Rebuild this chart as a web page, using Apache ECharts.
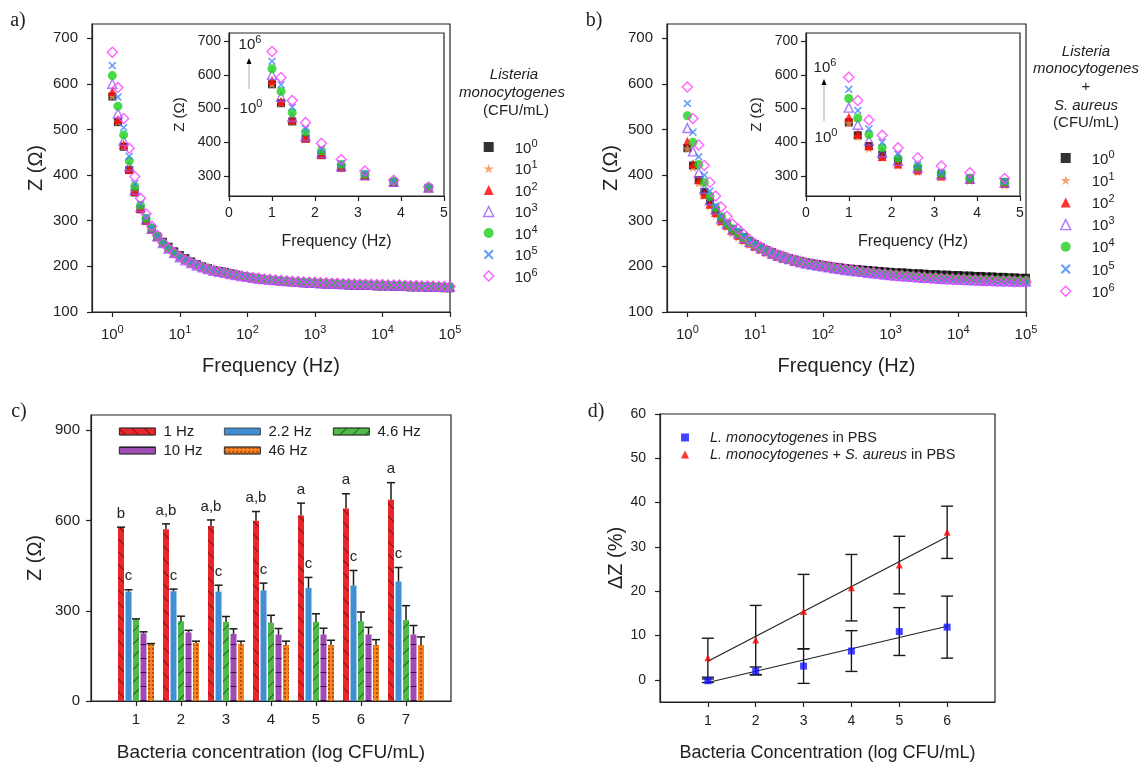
<!DOCTYPE html>
<html><head><meta charset="utf-8">
<script src="https://cdn.jsdelivr.net/npm/echarts@6/dist/echarts.min.js"></script>
<style>html,body{margin:0;padding:0;background:#fff}#c{width:1144px;height:763px}</style>
</head><body><div id="c"></div>
<script>
// ---------------- DATA ----------------
const FREQ_HZ = [1,1.21,1.47,1.78,2.15,2.61,3.16,3.83,4.64,5.62,6.81,8.25,
  10,12.1,14.7,17.8,21.5,26.1,31.6,38.3,46.4,56.2,68.1,82.5,
  100,121,147,178,215,261,316,383,464,562,681,825,
  1000,1210,1470,1780,2150,2610,3160,3830,4640,5620,6810,8250,
  10000,12100,14700,17800,21500,26100,31600,38300,46400,56200,68100,82500,100000];

// Panel a: Listeria monocytogenes, Z (ohm) vs frequency
const LM_1E0 = [572,516,462,411,362,325,300,281,265,254,243,233,225,218,211,205,200,196,192,190,188,185,182,179,177,175,173,171,170,168,167,166,165,164,163,162,162,161,160,160,159,159,158,158,157,157,157,156,156,156,155,155,155,154,154,154,153,153,153,152,152];
const LM_1E1 = [573,517,463,411,363,326,300,281,265,253,242,232,225,218,212,206,201,197,194,191,189,186,183,181,179,177,175,174,172,171,170,169,168,167,166,165,165,164,164,163,163,162,162,161,161,161,160,160,160,159,159,159,158,158,158,157,157,157,156,156,156];
const LM_1E2 = [583,522,467,413,364,327,301,282,265,252,240,230,222,215,209,204,199,195,192,189,187,184,182,180,178,176,175,173,172,171,170,169,168,167,167,166,166,165,165,164,164,163,163,162,162,162,161,161,161,160,160,160,159,159,159,158,158,158,157,157,157];
const LM_1E3 = [600,535,475,419,368,330,303,283,266,251,239,229,220,213,207,202,198,194,190,188,186,183,181,179,177,175,173,172,171,170,169,168,167,166,165,165,164,163,163,162,162,161,161,161,160,160,160,159,159,159,158,158,158,157,157,157,156,156,156,155,155];
const LM_1E4 = [618,551,488,431,375,334,305,284,266,251,239,229,221,214,208,203,198,194,190,188,186,183,181,179,177,175,174,172,171,170,169,168,167,166,166,165,164,164,163,163,162,162,161,161,160,160,160,159,159,159,158,158,158,157,157,157,156,156,156,155,155];
const LM_1E5 = [640,571,504,441,381,337,308,285,267,251,239,229,221,214,208,203,198,194,191,188,186,183,181,179,177,175,174,172,171,170,169,168,167,166,166,165,164,164,163,163,162,162,161,161,161,160,160,160,159,159,159,158,158,158,157,157,157,156,156,156,155];
const LM_1E6 = [669,592,524,459,397,349,315,288,268,252,240,230,221,214,208,203,198,194,191,188,186,183,181,179,177,175,174,172,171,170,169,168,167,167,166,165,165,164,164,163,163,162,162,161,161,161,160,160,160,159,159,159,158,158,158,157,157,157,156,156,156];

// Panel b: Listeria monocytogenes + S. aureus
const LMSA_1E0 = [459,421,389,363,343,322,305,293,282,273,264,256,249,242,236,231,226,222,218,215,212,209,207,205,203,201,199,198,196,195,194,193,192,191,190,189,188,187,187,186,185,185,184,183,183,182,182,181,181,180,180,179,179,178,178,177,177,176,176,175,175];
const LMSA_1E1 = [458,417,383,355,333,313,298,287,273,264,256,248,242,236,230,225,221,217,214,210,208,205,203,201,199,197,196,194,193,191,190,189,187,186,185,184,183,182,181,180,179,179,178,177,177,176,175,175,174,174,174,173,173,172,172,172,171,171,171,171,170];
const LMSA_1E2 = [474,425,390,358,336,318,300,290,278,268,259,251,244,238,232,227,222,218,215,211,209,206,204,202,200,198,196,195,193,192,190,189,188,187,186,185,184,183,182,181,180,180,179,178,178,177,176,176,175,175,175,174,174,173,173,173,172,172,172,172,171];
const LMSA_1E3 = [503,452,405,370,345,325,305,293,280,272,262,254,246,240,234,228,224,220,216,212,209,206,204,202,200,198,196,194,192,191,189,188,186,185,184,182,181,180,179,178,177,176,175,175,174,173,172,172,171,171,170,170,169,169,169,168,168,168,167,167,167];
const LMSA_1E4 = [530,472,423,384,353,328,308,293,282,273,263,254,247,240,234,229,224,220,216,213,210,207,205,203,201,199,197,195,194,192,191,189,188,187,185,184,183,182,181,180,179,178,177,176,176,175,174,174,173,173,172,172,171,171,171,170,170,170,169,169,169];
const LMSA_1E5 = [557,494,440,400,365,333,310,295,283,280,268,257,249,242,235,229,224,220,216,213,210,207,204,202,200,198,196,194,192,190,189,187,185,184,182,181,179,178,177,176,175,174,173,172,171,171,170,169,169,168,168,167,167,166,166,165,165,165,164,164,164];
const LMSA_1E6 = [593,524,466,421,384,354,330,310,293,282,270,259,250,243,236,231,226,222,218,214,211,208,206,204,202,200,198,196,194,193,191,189,187,186,184,183,181,180,179,178,177,176,175,174,174,173,172,171,171,170,170,169,169,168,168,167,167,167,166,166,166];

const CONC_EXPONENTS = [0,1,2,3,4,5,6];
const INSET_POINT_COUNT = 9;           // low-frequency points shown in the insets (1 - 4.64 Hz)
const DECADE_TICKS = [1,10,100,1000,10000,100000];

// Panel c
const LOG_CONC = [1,2,3,4,5,6,7];
const BAR_NAMES = ['1 Hz','2.2 Hz','4.6 Hz','10 Hz','46 Hz'];
const Z_1HZ   = [575,571,582,599,617,640,669];
const Z_1HZ_SD = [3,18,20,31,41,49,57];
const Z_2P2HZ = [364,365,364,368,376,384,397];
const Z_2P2HZ_SD = [6,7,21,24,35,50,47];
const Z_4P6HZ = [270,265,263,260,263,265,269];
const Z_4P6HZ_SD = [3,17,18,25,27,31,48];
const Z_10HZ  = [225,228,223,221,221,221,221];
const Z_10HZ_SD = [5,7,17,20,21,24,30];
const Z_46HZ  = [189,193,190,186,186,186,186];
const Z_46HZ_SD = [2,6,9,13,16,18,27];
const LETTERS_1HZ = ['b','a,b','a,b','a,b','a','a','a'];
const LETTERS_2P2HZ = ['c','c','c','c','c','c','c'];

// Panel d
const LOG_CONC_D = [1,2,3,4,5,6];
const DZ_LM = [-0.2,2.0,3.1,6.5,10.9,11.9];
const DZ_LM_SD = [0.4,0.9,3.9,4.6,5.4,7.0];
const DZ_LMSA = [5.0,9.0,15.4,20.8,25.9,33.3];
const DZ_LMSA_SD = [4.4,7.8,8.4,7.5,6.5,5.9];
const FIT_X = [1,6];
const FIT_LM = [-0.6,12.1];
const FIT_LMSA = [4.2,32.3];

// ---------------- STYLE ----------------
const FONT = '"Liberation Sans", Arial, sans-serif';
const SERIF = '"Liberation Serif", "Times New Roman", serif';
const INK = '#222';
const STAR = 'path://M50,2 L61.8,37.6 L99,37.6 L69,59.6 L80.4,95 L50,73 L19.6,95 L31,59.6 L1,37.6 L38.2,37.6 Z';
const XMARK = 'path://M14,0 L50,36 L86,0 L100,14 L64,50 L100,86 L86,100 L50,64 L14,100 L0,86 L36,50 L0,14 Z';
const MARKERS = [
  {symbol:'rect', size:8, color:'#000'},
  {symbol:STAR, size:10, color:'#f5894f'},
  {symbol:'triangle', size:9, color:'#ff0000'},
  {symbol:'triangle', size:9, hollow:'#9a55ff'},
  {symbol:'circle', size:9, color:'#1ccf1c'},
  {symbol:XMARK, size:8, color:'#3f86f7'},
  {symbol:'diamond', size:10, hollow:'#ff3cff'}
];
const SUP_RICH = {
  g:{width:16},
  b:{fontSize:15, fontFamily:FONT, color:INK, lineHeight:18, verticalAlign:'bottom'},
  s:{fontSize:11, fontFamily:FONT, color:INK, lineHeight:11, verticalAlign:'top'}
};
const pow10Label = v => '{b|10}{s|' + Math.round(Math.log10(v)) + '}';

function axisCommon(extra){
  return Object.assign({
    axisLine:{show:true, onZero:false, lineStyle:{color:INK, width:1.2}},
    axisTick:{show:true, length:5, lineStyle:{color:INK, width:1.2}},
    splitLine:{show:false},
    nameLocation:'middle',
    nameTextStyle:{fontFamily:FONT, color:INK, fontSize:20}
  }, extra);
}
function labelStyle(size, extra){
  return Object.assign({fontFamily:FONT, color:INK, fontSize:size, showMinLabel:true, showMaxLabel:true}, extra);
}

const grids = [
  {left:92, top:24, width:358, height:288},
  {left:229, top:33, width:215, height:163, backgroundColor:'#fff'},
  {left:667, top:24, width:359, height:288},
  {left:806, top:33, width:214, height:163, backgroundColor:'#fff'},
  {left:91, top:415, width:360, height:287},
  {left:660, top:414, width:335, height:288}
].map(g => Object.assign({show:true, borderColor:INK, borderWidth:1.2, containLabel:false}, g));

function mainX(gi){
  return axisCommon({type:'log', logBase:10, gridIndex:gi, min:0.5, max:100000,
    axisTick:{show:true, length:5, lineStyle:{color:INK,width:1.2}, customValues:DECADE_TICKS},
    axisLabel:labelStyle(15,{customValues:DECADE_TICKS, formatter:pow10Label, rich:SUP_RICH, margin:12}),
    name:'Frequency (Hz)', nameGap:44});
}
function mainY(gi){
  const vals=[100,200,300,400,500,600,700];
  return axisCommon({type:'value', gridIndex:gi, min:100, max:731,
    axisTick:{show:true, length:5, lineStyle:{color:INK,width:1.2}, customValues:vals},
    axisLabel:labelStyle(15,{customValues:vals, margin:14}),
    name:'Z (\u03A9)', nameGap:46});
}
function insetX(gi){
  const vals=[0,1,2,3,4,5];
  return axisCommon({type:'value', gridIndex:gi, min:0, max:5,
    axisTick:{show:true, length:5, lineStyle:{color:INK,width:1.2}, customValues:vals},
    axisLabel:labelStyle(14,{customValues:vals, margin:10}),
    name:'Frequency (Hz)', nameGap:38, nameTextStyle:{fontFamily:FONT,color:INK,fontSize:16}});
}
function insetY(gi){
  const vals=[300,400,500,600,700];
  return axisCommon({type:'value', gridIndex:gi, min:241, max:724,
    axisTick:{show:true, length:5, lineStyle:{color:INK,width:1.2}, customValues:vals},
    axisLabel:labelStyle(14,{customValues:vals, margin:8}),
    name:'Z (\u03A9)', nameGap:42, nameTextStyle:{fontFamily:FONT,color:INK,fontSize:15}});
}

const xAxes = [
  mainX(0), insetX(1), mainX(2), insetX(3),
  axisCommon({type:'value', gridIndex:4, min:0, max:8,
    axisTick:{show:true,length:5,lineStyle:{color:INK,width:1.2},customValues:LOG_CONC},
    axisLabel:labelStyle(15,{customValues:LOG_CONC, margin:11}),
    name:'Bacteria concentration (log CFU/mL)', nameGap:42, nameTextStyle:{fontFamily:FONT,color:INK,fontSize:19}}),
  axisCommon({type:'value', gridIndex:5, min:0, max:7,
    axisTick:{show:true,length:5,lineStyle:{color:INK,width:1.2},customValues:LOG_CONC_D},
    axisLabel:labelStyle(14,{customValues:LOG_CONC_D, margin:12}),
    name:'Bacteria Concentration (log CFU/mL)', nameGap:42, nameTextStyle:{fontFamily:FONT,color:INK,fontSize:18}})
];
const yAxes = [
  mainY(0), insetY(1), mainY(2), insetY(3),
  axisCommon({type:'value', gridIndex:4, min:0, max:951,
    axisTick:{show:true,length:5,lineStyle:{color:INK,width:1.2},customValues:[0,300,600,900]},
    axisLabel:labelStyle(15,{customValues:[0,300,600,900], margin:11}),
    name:'Z (\u03A9)', nameGap:46}),
  axisCommon({type:'value', gridIndex:5, min:-5, max:60,
    axisTick:{show:true,length:5,lineStyle:{color:INK,width:1.2},customValues:[0,10,20,30,40,50,60]},
    axisLabel:labelStyle(14,{customValues:[0,10,20,30,40,50,60], margin:14}),
    name:'\u0394Z (%)', nameGap:34})
];

// ---------------- SERIES ----------------
const series = [];
function addCurves(prefix, arrays, gMain, gInset){
  arrays.forEach((arr,i)=>{
    const m = MARKERS[i];
    const st = m.hollow ? {color:'rgba(255,255,255,0)', borderColor:m.hollow, borderWidth:1.4} : {color:m.color};
    const common = {type:'scatter', name:prefix+i, symbol:m.symbol, symbolSize:m.size, itemStyle:st, silent:true};
    series.push(Object.assign({}, common, {xAxisIndex:gMain, yAxisIndex:gMain,
      data: FREQ_HZ.map((f,k)=>[f, arr[k]])}));
    series.push(Object.assign({}, common, {xAxisIndex:gInset, yAxisIndex:gInset,
      data: FREQ_HZ.slice(0,INSET_POINT_COUNT).map((f,k)=>[f, arr[k]])}));
  });
}
addCurves('a', [LM_1E0,LM_1E1,LM_1E2,LM_1E3,LM_1E4,LM_1E5,LM_1E6], 0, 1);
addCurves('b', [LMSA_1E0,LMSA_1E1,LMSA_1E2,LMSA_1E3,LMSA_1E4,LMSA_1E5,LMSA_1E6], 2, 3);

// Panel c bars
const BAR_VALUES = [Z_1HZ, Z_2P2HZ, Z_4P6HZ, Z_10HZ, Z_46HZ];
const BAR_SD = [Z_1HZ_SD, Z_2P2HZ_SD, Z_4P6HZ_SD, Z_10HZ_SD, Z_46HZ_SD];
const BAR_LETTERS = [LETTERS_1HZ, LETTERS_2P2HZ, null, null, null];
const BAR_COLORS = ['#e8262c','#3f8fd2','#4fba4a','#a04cb5','#f58220'];
const BAR_DECALS = [
  {symbol:'rect', symbolSize:1, dashArrayX:[1,0], dashArrayY:[0.8,8], rotation:Math.PI/4, color:'rgba(70,0,0,0.6)'},
  null,
  {symbol:'rect', symbolSize:1, dashArrayX:[1,0], dashArrayY:[0.8,8], rotation:-Math.PI/4, color:'rgba(0,45,0,0.6)'},
  {symbol:'rect', symbolSize:1, dashArrayX:[1,0], dashArrayY:[1,13], rotation:0, color:'rgba(35,0,45,0.8)'},
  {symbol:'rect', symbolSize:1, dashArrayX:[1.5,1.5], dashArrayY:[1.5,1.5], rotation:0, color:'rgba(150,55,0,0.7)'}
];
const BAR_W = 6, BAR_STEP = 7.5;
BAR_VALUES.forEach((vals,i)=>{
  const it = {color:BAR_COLORS[i]};
  if (BAR_DECALS[i]) it.decal = BAR_DECALS[i];
  series.push({type:'bar', name:BAR_NAMES[i], xAxisIndex:4, yAxisIndex:4, barWidth:BAR_W, barGap:'25%',
    itemStyle:it, data: LOG_CONC.map((c,j)=>[c, vals[j]]), silent:true});
});
BAR_VALUES.forEach((vals,i)=>{
  const letters = BAR_LETTERS[i];
  series.push({type:'custom', name:'err'+i, xAxisIndex:4, yAxisIndex:4, z:5, silent:true,
    data: LOG_CONC.map((c,j)=>[c, vals[j], BAR_SD[i][j]]),
    renderItem:(params, api)=>{
      const p0 = api.coord([api.value(0), api.value(1)]);
      const p1 = api.coord([api.value(0), api.value(1)+api.value(2)]);
      const cx = p0[0] + (i-2)*BAR_STEP;
      const ls = {stroke:'#1a1a1a', lineWidth:1.5};
      const ch = [
        {type:'line', shape:{x1:cx,y1:p0[1],x2:cx,y2:p1[1]}, style:ls},
        {type:'line', shape:{x1:cx-4,y1:p1[1],x2:cx+4,y2:p1[1]}, style:ls}
      ];
      if (letters) ch.push({type:'text', x:cx, y:p1[1]-6, style:{text:letters[params.dataIndex], fontFamily:FONT, fontSize:15, fill:INK, align:'center', verticalAlign:'bottom'}});
      return {type:'group', children:ch};
    }});
});

// Panel d
function errD(name, vals, sd){
  return {type:'custom', name:name, xAxisIndex:5, yAxisIndex:5, z:3, silent:true,
    data: LOG_CONC_D.map((c,j)=>[c, vals[j], sd[j]]),
    renderItem:(params, api)=>{
      const a = api.coord([api.value(0), api.value(1)+api.value(2)]);
      const b = api.coord([api.value(0), api.value(1)-api.value(2)]);
      const ls = {stroke:'#1a1a1a', lineWidth:1.4};
      return {type:'group', children:[
        {type:'line', shape:{x1:a[0],y1:a[1],x2:b[0],y2:b[1]}, style:ls},
        {type:'line', shape:{x1:a[0]-6,y1:a[1],x2:a[0]+6,y2:a[1]}, style:ls},
        {type:'line', shape:{x1:b[0]-6,y1:b[1],x2:b[0]+6,y2:b[1]}, style:ls}
      ]};
    }};
}
series.push(errD('errLm', DZ_LM, DZ_LM_SD));
series.push(errD('errLmsa', DZ_LMSA, DZ_LMSA_SD));
series.push({type:'line', name:'fitLm', xAxisIndex:5, yAxisIndex:5, showSymbol:false, symbol:'none', z:3, silent:true,
  lineStyle:{color:'#222', width:1.2}, data: FIT_X.map((x,k)=>[x, FIT_LM[k]])});
series.push({type:'line', name:'fitLmsa', xAxisIndex:5, yAxisIndex:5, showSymbol:false, symbol:'none', z:3, silent:true,
  lineStyle:{color:'#222', width:1.2}, data: FIT_X.map((x,k)=>[x, FIT_LMSA[k]])});
series.push({type:'scatter', name:'lm', xAxisIndex:5, yAxisIndex:5, symbol:'rect', symbolSize:7, z:4, silent:true,
  itemStyle:{color:'#1515ff'}, data: LOG_CONC_D.map((c,j)=>[c, DZ_LM[j]])});
series.push({type:'scatter', name:'lmsa', xAxisIndex:5, yAxisIndex:5, symbol:'triangle', symbolSize:7, z:4, silent:true,
  itemStyle:{color:'#ff0000'}, data: LOG_CONC_D.map((c,j)=>[c, DZ_LMSA[j]])});

// ---------------- LEGENDS ----------------
const concLegend = (prefix, left, top, gap) => ({
  orient:'vertical', left:left, top:top, padding:0, itemWidth:10, itemHeight:10, itemGap:gap, selectedMode:false,
  itemStyle:{borderWidth:1.4},
  data: CONC_EXPONENTS.map(e=>prefix+e),
  formatter: n => '{g| }{b|10}{s|' + CONC_EXPONENTS[+n.slice(1)] + '}',
  textStyle:{rich:SUP_RICH}
});
const barLegend = (name, left, top) => ({
  data:[name], left:left, top:top, padding:0, icon:'rect', itemWidth:36, itemHeight:7, selectedMode:false,
  itemStyle:{borderColor:'#333', borderWidth:0.8},
  textStyle:{fontFamily:FONT, fontSize:15, color:INK, padding:[0,0,0,3]}
});
const legends = [
  concLegend('a', 483, 138, 3.5),
  concLegend('b', 1060, 149, 4.2),
  barLegend('1 Hz', 119, 424), barLegend('2.2 Hz', 224, 424), barLegend('4.6 Hz', 333, 424),
  barLegend('10 Hz', 119, 443), barLegend('46 Hz', 224, 443),
  {orient:'vertical', left:681, top:430, padding:0, itemWidth:8, itemHeight:8, itemGap:2, selectedMode:false,
   data:['lm','lmsa'],
   formatter: n => n==='lm' ? '{g| }{i|L. monocytogenes}{n| in PBS}' : '{g| }{i|L. monocytogenes}{n| + }{i|S. aureus}{n| in PBS}',
   textStyle:{rich:{g:{width:16}, i:{fontFamily:FONT,fontSize:14.5,fontStyle:'italic',color:INK,lineHeight:16}, n:{fontFamily:FONT,fontSize:14.5,color:INK,lineHeight:16}}}}
];

// ---------------- ANNOTATIONS ----------------
function txt(x,y,text,opt){
  return {type:'text', x:x, y:y, silent:true, style:Object.assign({text:text, fontFamily:FONT, fontSize:15, fill:INK, align:'center', verticalAlign:'middle'}, opt||{})};
}
const supRich = {b:{fontSize:15,fontFamily:FONT,color:INK,lineHeight:18,verticalAlign:'bottom'}, s:{fontSize:11,fontFamily:FONT,color:INK,lineHeight:11,verticalAlign:'top'}};
function arrowAnno(x, yTop, yBot, yTxtTop, yTxtBot){
  return [
    {type:'line', silent:true, shape:{x1:x,y1:yBot,x2:x,y2:yTop+4}, style:{stroke:'#aaa', lineWidth:1}},
    {type:'polygon', silent:true, shape:{points:[[x,yTop],[x-2.5,yTop+6],[x+2.5,yTop+6]]}, style:{fill:'#000'}},
    txt(x+1, yTxtTop, '{b|10}{s|6}', {rich:supRich}),
    txt(x+2, yTxtBot, '{b|10}{s|0}', {rich:supRich})
  ];
}
const graphics = [
  txt(18,21,'a)',{fontFamily:SERIF,fontSize:20}),
  txt(594,21,'b)',{fontFamily:SERIF,fontSize:20}),
  txt(19,412,'c)',{fontFamily:SERIF,fontSize:20}),
  txt(596,412,'d)',{fontFamily:SERIF,fontSize:20}),
  txt(514,75,'Listeria',{fontStyle:'italic'}),
  txt(512,93,'monocytogenes',{fontStyle:'italic'}),
  txt(516,111,'(CFU/mL)'),
  txt(1086,52,'Listeria',{fontStyle:'italic'}),
  txt(1086,69,'monocytogenes',{fontStyle:'italic'}),
  txt(1086,87,'+'),
  txt(1086,106,'S. aureus',{fontStyle:'italic'}),
  txt(1086,123,'(CFU/mL)')
].concat(arrowAnno(249,58,89,43,107), arrowAnno(824,79,121,66,136));

const chart = echarts.init(document.getElementById('c'), null, {renderer:'canvas', width:1144, height:763});
chart.setOption({
  animation:false,
  backgroundColor:'#fff',
  textStyle:{fontFamily:FONT},
  grid:grids, xAxis:xAxes, yAxis:yAxes,
  legend:legends, series:series, graphic:graphics
});
</script></body></html>
